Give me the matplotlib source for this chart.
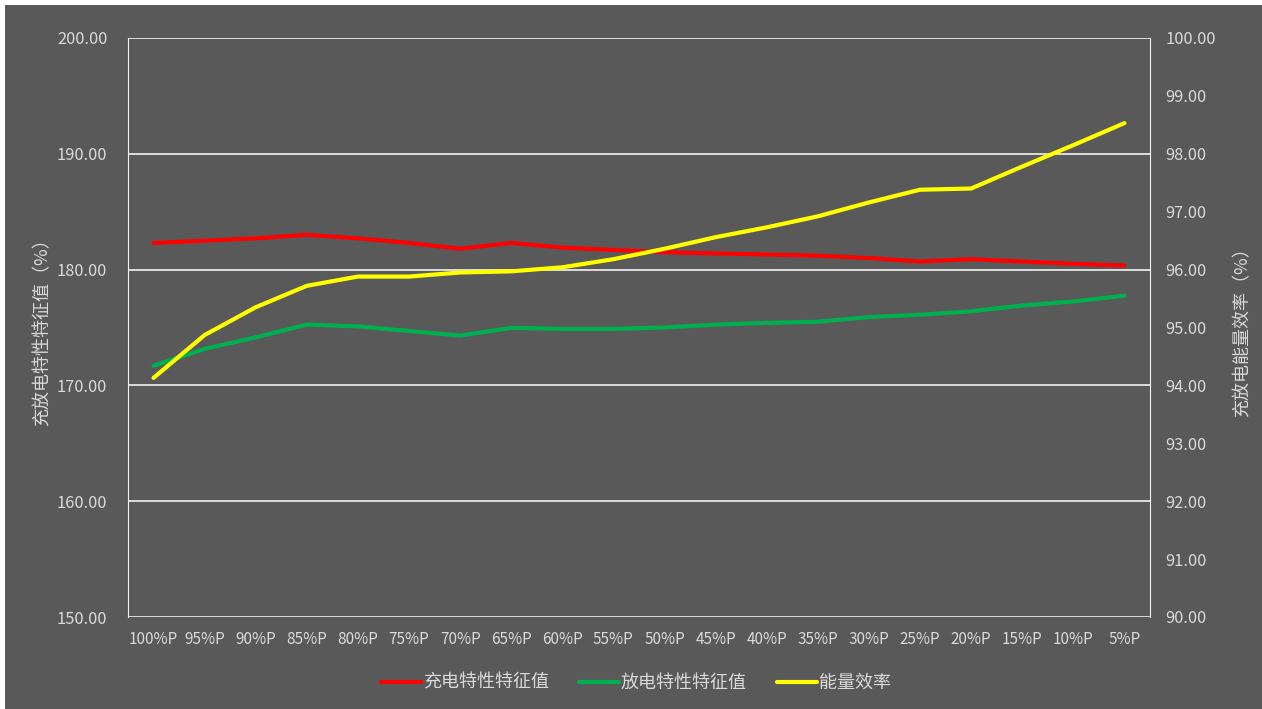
import matplotlib.pyplot as plt
from matplotlib.patches import Rectangle

plt.rcParams['font.family'] = ['Noto Sans CJK SC', 'DejaVu Sans']

# 数据
categories = ['100%P', '95%P', '90%P', '85%P', '80%P', '75%P', '70%P', '65%P', '60%P', '55%P',
              '50%P', '45%P', '40%P', '35%P', '30%P', '25%P', '20%P', '15%P', '10%P', '5%P']
charge = [182.3, 182.5, 182.7, 183.0, 182.7, 182.3, 181.8, 182.3, 181.9, 181.7,
          181.5, 181.4, 181.3, 181.2, 181.0, 180.7, 180.9, 180.7, 180.5, 180.35]
discharge = [171.7, 173.15, 174.15, 175.25, 175.1, 174.7, 174.3, 174.97, 174.88, 174.88,
             175.0, 175.25, 175.4, 175.5, 175.9, 176.1, 176.4, 176.9, 177.25, 177.75]
efficiency = [94.13, 94.87, 95.35, 95.72, 95.88, 95.88, 95.95, 95.97, 96.04, 96.18,
              96.36, 96.56, 96.73, 96.92, 97.16, 97.38, 97.40, 97.78, 98.15, 98.53]

bg = '#595959'
txt = '#D9D9D9'

fig = plt.figure(figsize=(12.62, 7.09), dpi=100, facecolor='white')
fig.patches.append(Rectangle((5 / 1262, 0), 1, 1 - 5 / 709,
                             transform=fig.transFigure, facecolor=bg, edgecolor='none', zorder=-10))

ax = fig.add_axes([128 / 1262, 1 - 617 / 709, (1150 - 128) / 1262, (617 - 38) / 709])
ax.set_facecolor(bg)
ax2 = ax.twinx()

x = list(range(len(categories)))
l1, = ax.plot(x, charge, color='#FF0000', lw=3, solid_capstyle='round', label='充电特性特征值')
l2, = ax.plot(x, discharge, color='#00B050', lw=3, solid_capstyle='round', label='放电特性特征值')
l3, = ax2.plot(x, efficiency, color='#FFFF00', lw=3, solid_capstyle='round', label='能量效率')

ax.set_xlim(-0.5, len(categories) - 0.5)
ax.set_ylim(150, 200)
ax.set_yticks(range(150, 201, 10))
ax.set_yticklabels([f'{v:.2f}' for v in range(150, 201, 10)])
ax2.set_ylim(90, 100)
ax2.set_yticks(range(90, 101))
ax2.set_yticklabels([f'{v:.2f}' for v in range(90, 101)])
ax.set_xticks(x)
ax.set_xticklabels(categories)

ax.grid(axis='y', color='#F2F2F2', lw=1.2)
ax.set_axisbelow(True)

for a in (ax, ax2):
    for s in a.spines.values():
        s.set_visible(False)
ax2.spines['left'].set_visible(True)
ax2.spines['right'].set_visible(True)
ax2.spines['left'].set_color('#F2F2F2')
ax2.spines['right'].set_color('#F2F2F2')

ax.tick_params(axis='y', length=0, pad=15, labelsize=11.8, labelcolor=txt)
ax.tick_params(axis='x', length=0, pad=10, labelsize=11, labelcolor=txt)
ax2.tick_params(axis='y', length=0, pad=11, labelsize=11.8, labelcolor=txt)

ax.set_ylabel('充放电特性特征值（%）', color=txt, fontsize=13, labelpad=4)
ax2.set_ylabel('充放电能量效率（%）', color=txt, fontsize=13, rotation=90, labelpad=13)

leg = fig.legend(handles=[l1, l2, l3], loc='center', bbox_to_anchor=(636 / 1262, 1 - 683 / 709),
                 ncol=3, frameon=False, fontsize=13, handlelength=2.2, handletextpad=0.1,
                 columnspacing=1.7)
for t in leg.get_texts():
    t.set_color(txt)

fig.savefig('out.png', dpi=100, facecolor=fig.get_facecolor())
